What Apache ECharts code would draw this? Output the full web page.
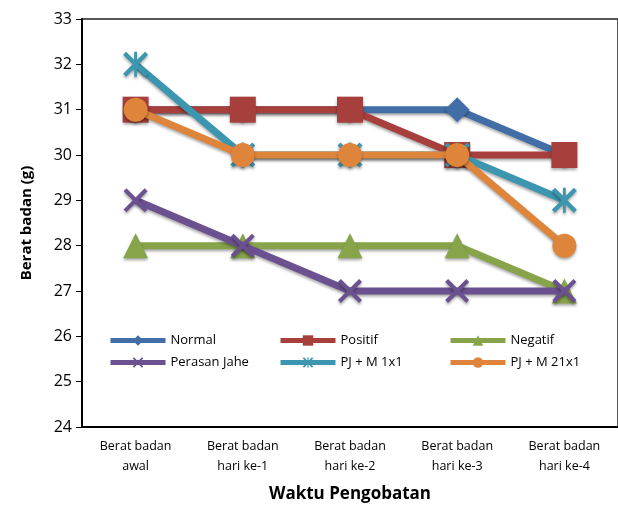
<!DOCTYPE html>
<html><head><meta charset="utf-8">
<script src="https://cdn.jsdelivr.net/npm/echarts@6/dist/echarts.min.js"></script>
<style>html,body{margin:0;padding:0;background:#fff}#c{width:618px;height:508px}</style>
</head><body><div id="c"></div>
<script>
var categories = ['Berat badan\nawal','Berat badan\nhari ke-1','Berat badan\nhari ke-2','Berat badan\nhari ke-3','Berat badan\nhari ke-4'];
var normal = [31,31,31,31,30];
var positif = [31,31,31,30,30];
var negatif = [28,28,28,28,27];
var perasanJahe = [29,28,27,27,27];
var pjm1x1 = [32,30,30,30,29];
var pjm21x1 = [31,30,30,30,28];
var seriesNames = ['Normal','Positif','Negatif','Perasan Jahe','PJ + M 1x1','PJ + M 21x1'];
var yTicks = {min:24, max:33, interval:1};

var F = '"Open Sans", sans-serif';
var X = 'path://M0,1.2 L1.2,0 L10,8.8 L8.8,10 Z M8.8,0 L10,1.2 L1.2,10 L0,8.8 Z';
var STAR = 'path://M0,1.2 L1.2,0 L10,8.8 L8.8,10 Z M8.8,0 L10,1.2 L1.2,10 L0,8.8 Z M4.45,0 L5.55,0 L5.55,10 L4.45,10 Z';
var cfg = [
  {d:normal, c:'#416EA6', s:'diamond', z:25},
  {d:positif, c:'#A73F3C', s:'rect', z:26},
  {d:negatif, c:'#87A44A', s:'triangle', z:25},
  {d:perasanJahe, c:'#6C5190', s:X, z:24},
  {d:pjm1x1, c:'#3C96AF', s:STAR, z:25},
  {d:pjm21x1, c:'#DF843B', s:'circle', z:24}
];
var series = cfg.map(function(o,i){
  return {
    name: seriesNames[i], type:'line', data:o.d,
    symbol:o.s, symbolSize:o.z, showSymbol:true,
    lineStyle:{color:o.c, width:7, shadowBlur:3, shadowColor:'rgba(0,0,0,0.35)', shadowOffsetY:2},
    itemStyle:{color:o.c, shadowBlur:3, shadowColor:'rgba(0,0,0,0.35)', shadowOffsetY:2},
    emphasis:{disabled:true}, animation:false, z:2+i
  };
});
var legPos = [[108,334],[278,334],[448,334],[108,356],[278,356],[448,356]];
var legends = seriesNames.map(function(n,i){
  return {data:[n], left:legPos[i][0], top:legPos[i][1], itemWidth:55, itemHeight:13, itemGap:0,
    textStyle:{fontFamily:F, fontSize:13, color:'#000', padding:[0,0,0,0]},
    lineStyle:{width:5}, padding:0, selectedMode:false};
});
var chart = echarts.init(document.getElementById('c'), null, {renderer:'canvas'});
chart.setOption({
  backgroundColor:'#fff',
  animation:false,
  legend: legends,
  grid:{left:82, top:19, width:538, height:410, show:true, borderColor:'#222', borderWidth:1.5, containLabel:false},
  xAxis:{type:'category', data:categories, boundaryGap:true,
    name:'Waktu Pengobatan', nameLocation:'middle', nameGap:59,
    nameTextStyle:{fontFamily:F, fontSize:17, fontWeight:'bold', color:'#000'},
    axisLine:{lineStyle:{color:'#000', width:2}},
    axisTick:{alignWithLabel:true, length:4, lineStyle:{color:'#000'}},
    axisLabel:{fontFamily:F, fontSize:12.5, color:'#000', lineHeight:20, margin:9}},
  yAxis:{type:'value', min:yTicks.min, max:yTicks.max, interval:yTicks.interval,
    name:'Berat badan (g)', nameLocation:'middle', nameGap:48,
    nameTextStyle:{fontFamily:F, fontSize:15, fontWeight:'bold', color:'#000'},
    axisLine:{show:true, lineStyle:{color:'#000', width:2}},
    axisTick:{show:true, length:6, lineStyle:{color:'#000'}},
    splitLine:{show:false},
    axisLabel:{fontFamily:F, fontSize:16, color:'#000', margin:10}},
  series: series
});
</script></body></html>
